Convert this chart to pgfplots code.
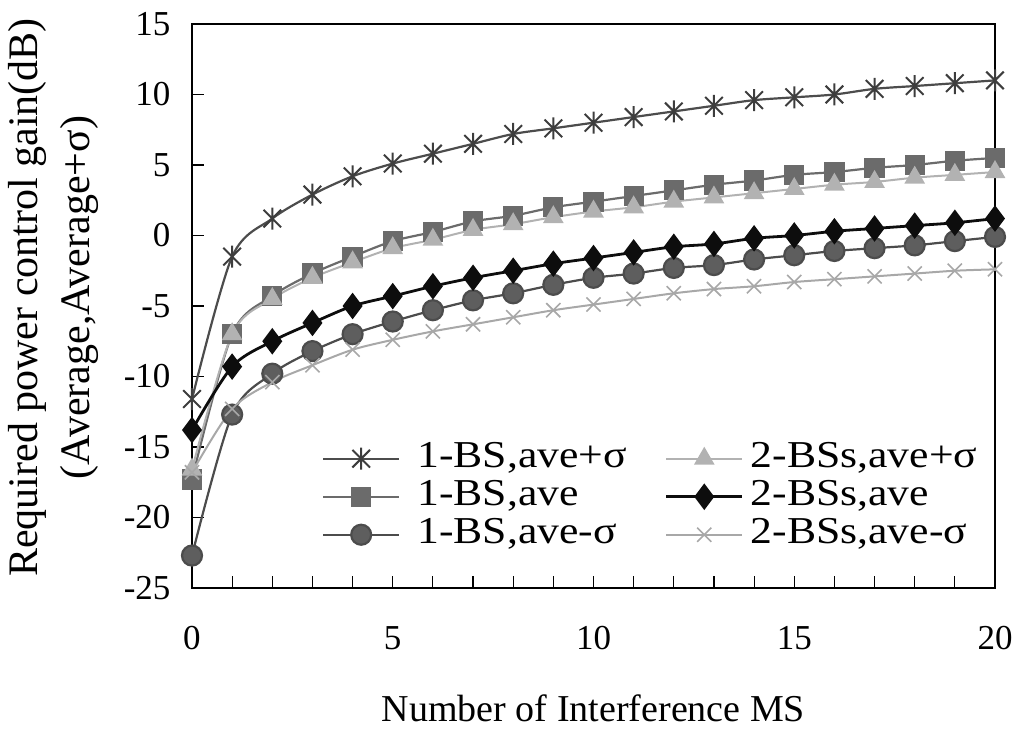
\documentclass[border=0pt]{standalone}
\usepackage{fontspec}
\setmainfont{Liberation Serif}
\newfontfamily\legfont[FakeStretch=1.15]{Liberation Serif}
\usepackage{pgfplots}
\usepackage{pgfplotstable}
\usetikzlibrary{calc}
\pgfplotsset{compat=1.18}

\pgfdeclareplotmark{xstar}{%
  \pgfpathmoveto{\pgfqpoint{0pt}{\pgfplotmarksize}}%
  \pgfpathlineto{\pgfqpoint{0pt}{-\pgfplotmarksize}}%
  \pgfpathmoveto{\pgfqpoint{-0.8\pgfplotmarksize}{0.8\pgfplotmarksize}}%
  \pgfpathlineto{\pgfqpoint{0.8\pgfplotmarksize}{-0.8\pgfplotmarksize}}%
  \pgfpathmoveto{\pgfqpoint{-0.8\pgfplotmarksize}{-0.8\pgfplotmarksize}}%
  \pgfpathlineto{\pgfqpoint{0.8\pgfplotmarksize}{0.8\pgfplotmarksize}}%
  \pgfusepathqstroke}

\definecolor{cA1}{gray}{0.30}
\definecolor{cA2}{gray}{0.42}
\definecolor{cA3}{gray}{0.30}
\definecolor{cB1}{gray}{0.70}
\definecolor{cB2}{gray}{0.05}
\definecolor{cB3}{gray}{0.66}

\pgfplotstableread{
x  a1    a2    a3    b1    b2    b3
0  -11.6 -17.3 -22.7 -16.6 -13.8 -16.8
1  -1.5  -7.0  -12.7 -7.0  -9.3  -12.3
2  1.2   -4.3  -9.8  -4.5  -7.5  -10.4
3  2.9   -2.7  -8.2  -3.0  -6.2  -9.2
4  4.2   -1.5  -7.0  -1.9  -5.0  -8.1
5  5.1   -0.4  -6.1  -0.9  -4.3  -7.4
6  5.8   0.25  -5.3  -0.3  -3.6  -6.8
7  6.5   1.0   -4.6  0.4   -3.0  -6.3
8  7.2   1.4   -4.1  0.8   -2.5  -5.8
9  7.6   2.0   -3.5  1.3   -2.0  -5.3
10 8.0   2.4   -3.0  1.7   -1.6  -4.9
11 8.4   2.8   -2.7  2.0   -1.2  -4.5
12 8.8   3.2   -2.3  2.4   -0.8  -4.1
13 9.2   3.6   -2.1  2.7   -0.6  -3.8
14 9.6   3.9   -1.7  3.0   -0.2  -3.6
15 9.8   4.3   -1.4  3.3   0.0   -3.3
16 10.0  4.5   -1.1  3.6   0.3   -3.1
17 10.4  4.8   -0.9  3.8   0.5   -2.9
18 10.6  5.0   -0.7  4.1   0.7   -2.7
19 10.8  5.3   -0.4  4.3   0.9   -2.5
20 11.0  5.5   -0.1  4.5   1.2   -2.4
}\datatable

\begin{document}
\begin{tikzpicture}
\begin{axis}[
  scale only axis,
  width=803pt, height=564pt,
  xmin=0, xmax=20, ymin=-25, ymax=15,
  xtick={0,5,10,15,20},
  minor xtick={0,1,...,20},
  ytick={-25,-20,...,15},
  xtick pos=bottom, ytick pos=left,
  tick align=inside,
  major tick length=12pt, minor tick length=12pt,
  tick style={black, line width=1.2pt},
  axis line style={black, line width=1.8pt},
  /pgf/number format/assume math mode=true,
  ticklabel style={font=\fontsize{35}{40}\selectfont},
  yticklabel style={xshift=-18pt},
  xticklabel style={yshift=-35pt},
  xlabel={Number of Interference MS},
  xlabel style={font=\fontsize{38}{44}\selectfont, at={(axis description cs:0.5,-0.213)}, anchor=center},
  ylabel={Required power control gain(dB)\\(Average,Average+σ)},
  ylabel style={font=\fontsize{42}{52}\selectfont, align=center, at={(axis description cs:-0.172,0.515)}, anchor=center},
  legend columns=3,
  transpose legend,
  legend style={draw=none, fill=none, at={(axis description cs:0.158,0.265)}, anchor=north west,
    font=\fontsize{38}{40}\selectfont\legfont, row sep=2pt,
    nodes={inner xsep=2pt, inner ysep=0pt, text height=27pt, text depth=9pt},
    /tikz/column 1/.style={column sep=15pt},
    /tikz/column 2/.style={column sep=36pt},
    /tikz/column 3/.style={column sep=5pt}},
  legend cell align=left,
  legend image code/.code={\draw[mark repeat=2,mark phase=2] plot coordinates {(0pt,0pt)(38pt,0pt)(76pt,0pt)};},
  every axis plot/.append style={smooth, tension=0.5},
]
\addplot[color=cA1, line width=2.2pt, mark=xstar, mark size=11pt, mark options={line width=2pt, color=cA1!80!black}] table[x=x,y=a1] {\datatable};
\addlegendentry{1-BS,ave+σ}
\addplot[color=cA2, line width=2.2pt, mark=square*, mark size=9pt, mark options={fill=cA2, draw=cA2}] table[x=x,y=a2] {\datatable};
\addlegendentry{1-BS,ave}
\addplot[color=cA3, line width=2.2pt, mark=*, mark size=10pt, mark options={fill=cA3!90, draw=cA3}] table[x=x,y=a3] {\datatable};
\addlegendentry{1-BS,ave-σ}
\addplot[color=cB1, line width=2pt, mark=triangle*, mark size=10pt, mark options={fill=cB1, draw=cB1}] table[x=x,y=b1] {\datatable};
\addlegendentry{2-BSs,ave+σ}
\addplot[color=cB2, line width=2.8pt, mark=diamond*, mark size=11pt, mark options={fill=cB2, draw=cB2}] table[x=x,y=b2] {\datatable};
\addlegendentry{2-BSs,ave}
\addplot[color=cB3, line width=2pt, mark=x, mark size=10pt, mark options={line width=1.6pt, color=cB3}] table[x=x,y=b3] {\datatable};
\addlegendentry{2-BSs,ave-σ}
\end{axis}
\pgfresetboundingbox
\path ($(current axis.south west)+(-192pt,-143pt)$) rectangle ($(current axis.north east)+(23pt,24pt)$);
\end{tikzpicture}
\end{document}
